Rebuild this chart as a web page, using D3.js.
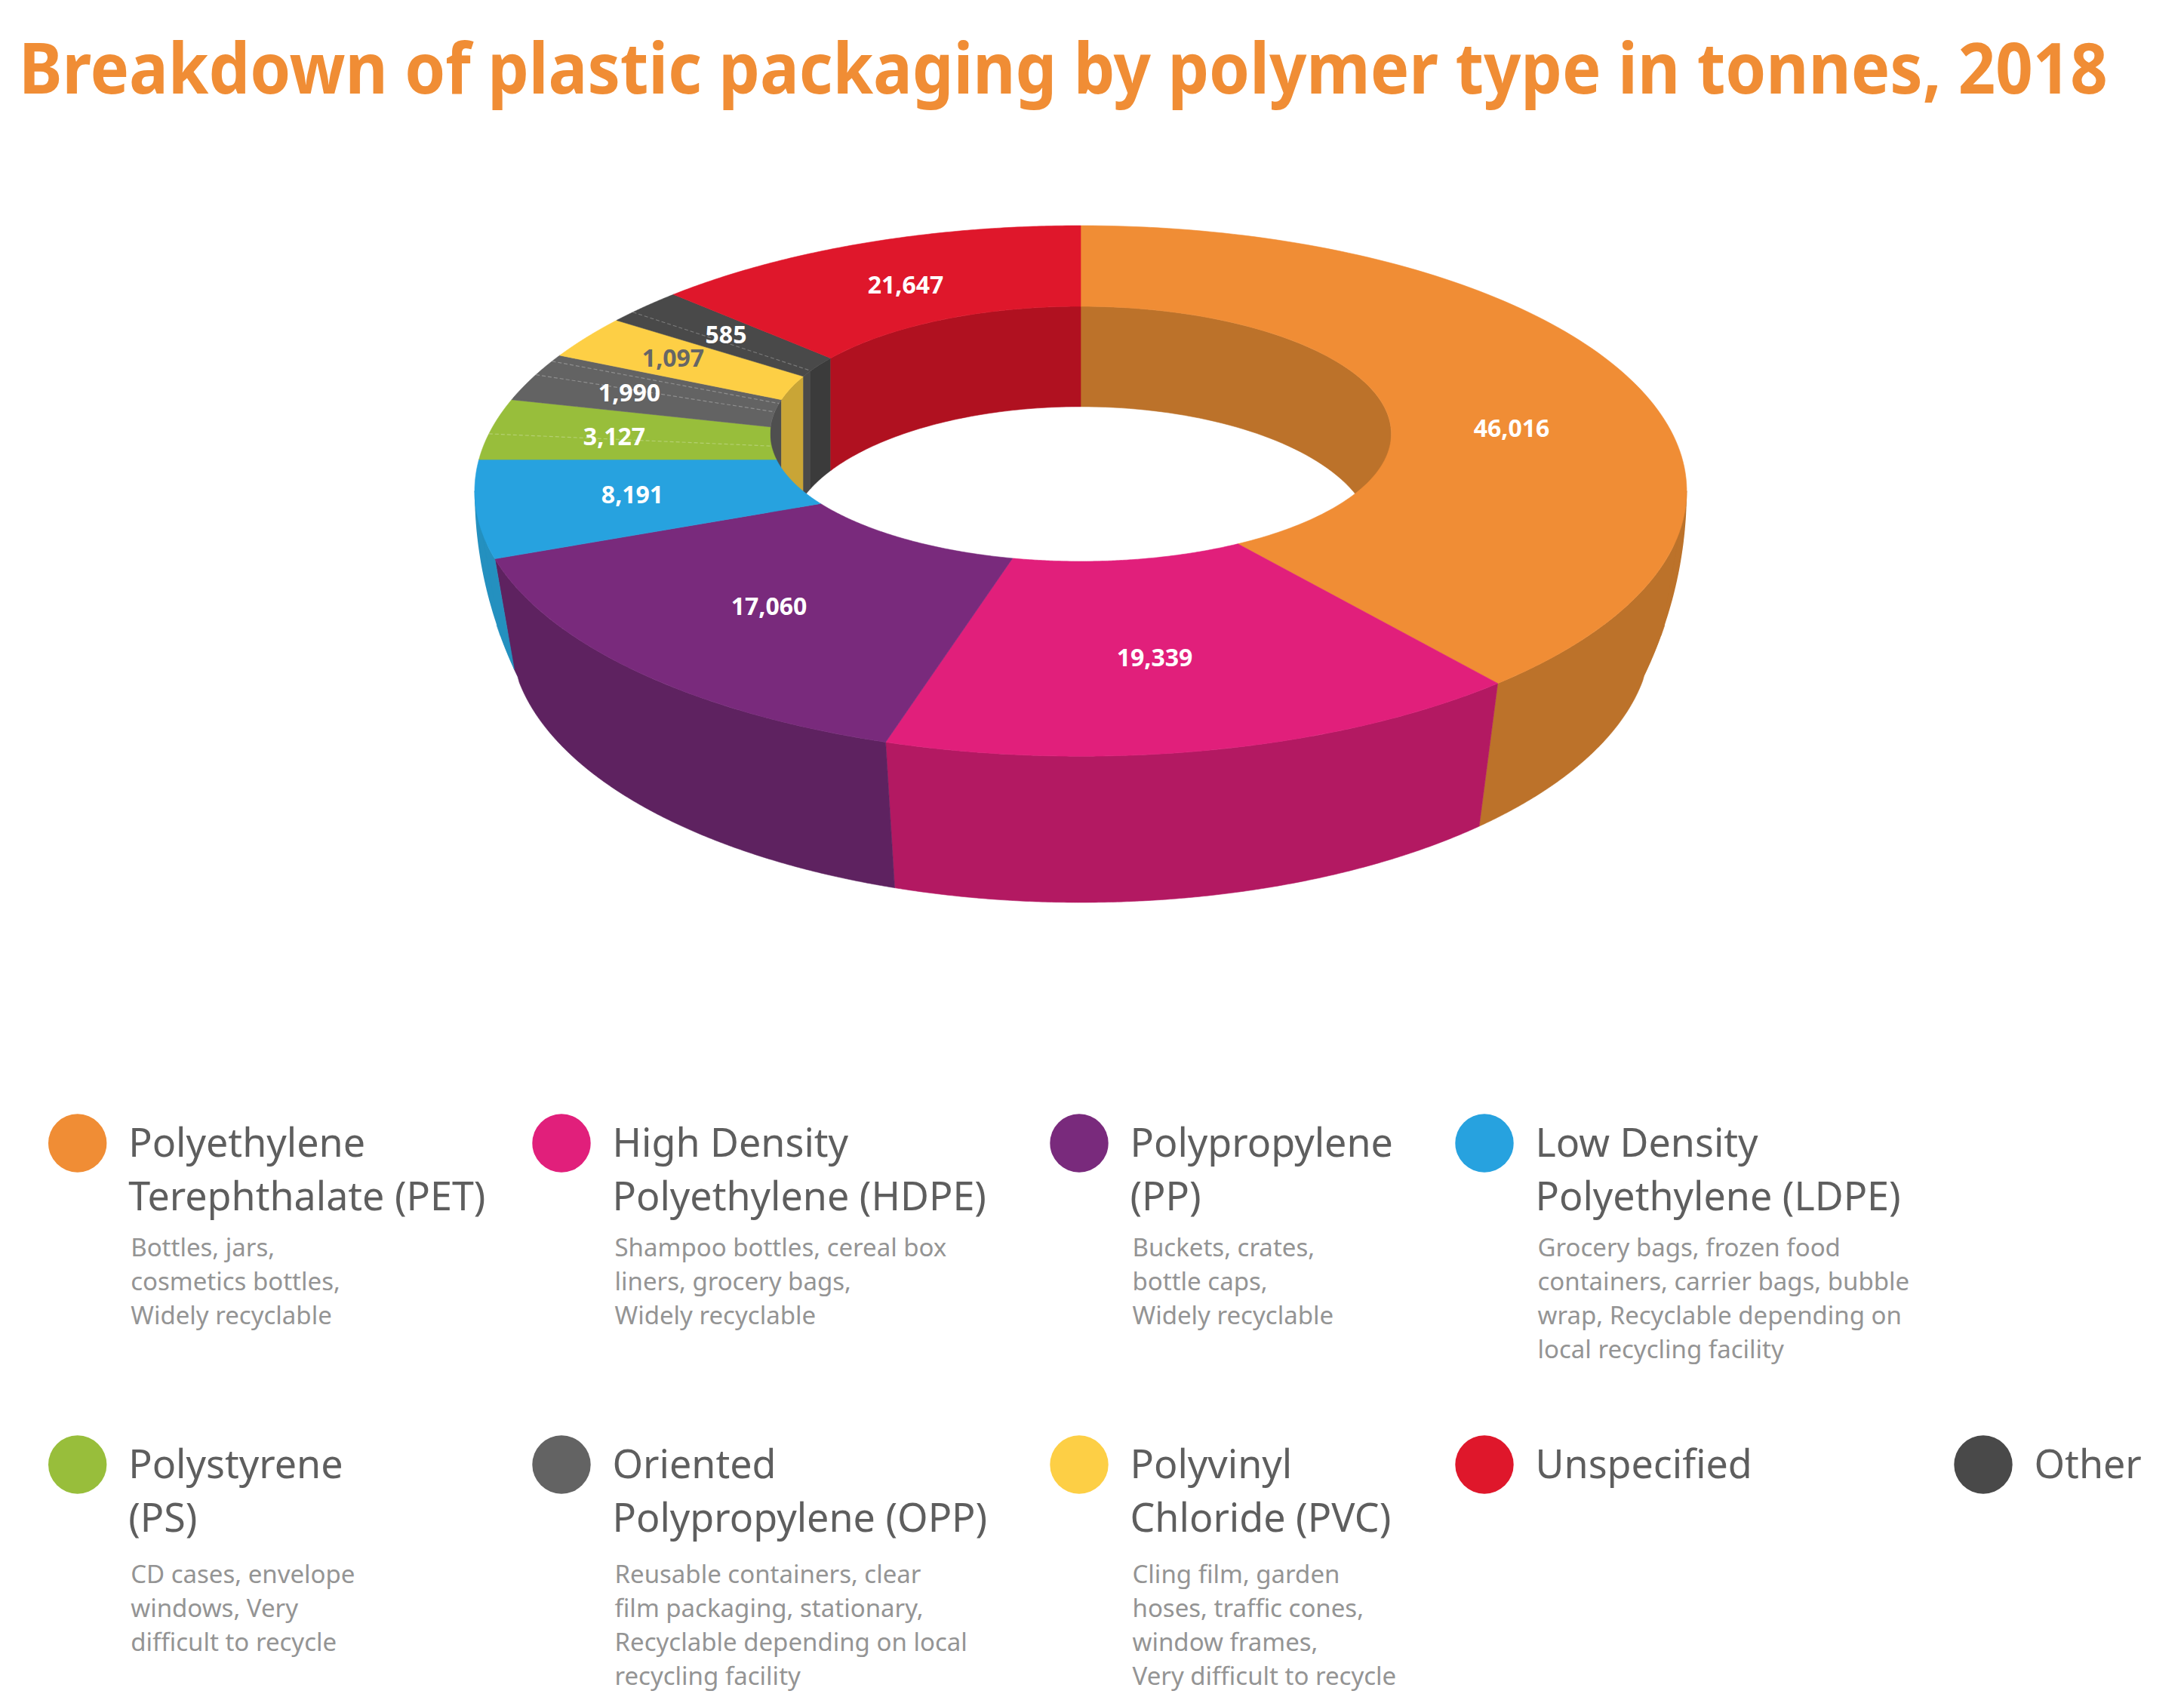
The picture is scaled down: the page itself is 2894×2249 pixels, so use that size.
<!DOCTYPE html>
<html>
<head>
<meta charset="utf-8">
<script src="https://d3js.org/d3.v7.min.js"></script>
<style>
  body { margin: 0; background: #fff; }
  text { font-family: "Noto Sans", sans-serif; }
</style>
</head>
<body>
<svg id="chart" width="2894" height="2249"></svg>
<script>
const titleText = 'Breakdown of plastic packaging by polymer type in tonnes, 2018';

// slice order is clockwise from 12 o'clock
const polymers = ['PET', 'HDPE', 'PP', 'LDPE', 'PS', 'OPP', 'PVC', 'Other', 'Unspecified'];
const tonnes = [46016, 19339, 17060, 8191, 3127, 1990, 1097, 585, 21647];
// degrees each wedge really takes up in the picture: the original is not
// drawn to scale (small slices blown up, Unspecified squeezed)
const drawnDegrees = [141, 55.7, 52, 21.3, 13.6, 11.1, 9.9, 8.4, 47];
const topColors = ['#f08d35', '#e11f7b', '#792a7c', '#27a2df', '#98be3b', '#636363', '#fdcf45', '#494949', '#df172b'];
const wallColors = ['#bc722a', '#b31962', '#5e2260', '#2490bf', '#7a9830', '#4f4f4f', '#c9a536', '#3b3b3b', '#b01120'];
const valueColors = ['#fff', '#fff', '#fff', '#fff', '#fff', '#fff', '#666', '#fff', '#fff'];

const legendOrder = ['PET', 'HDPE', 'PP', 'LDPE', 'PS', 'OPP', 'PVC', 'Unspecified', 'Other'];
const legendNames = [
  ['Polyethylene', 'Terephthalate (PET)'],
  ['High Density', 'Polyethylene (HDPE)'],
  ['Polypropylene', '(PP)'],
  ['Low Density', 'Polyethylene (LDPE)'],
  ['Polystyrene', '(PS)'],
  ['Oriented', 'Polypropylene (OPP)'],
  ['Polyvinyl', 'Chloride (PVC)'],
  ['Unspecified'],
  ['Other']
];
const legendNotes = [
  ['Bottles, jars,', 'cosmetics bottles,', 'Widely recyclable'],
  ['Shampoo bottles, cereal box', 'liners, grocery bags,', 'Widely recyclable'],
  ['Buckets, crates,', 'bottle caps,', 'Widely recyclable'],
  ['Grocery bags, frozen food', 'containers, carrier bags, bubble', 'wrap, Recyclable depending on', 'local recycling facility'],
  ['CD cases, envelope', 'windows, Very', 'difficult to recycle'],
  ['Reusable containers, clear', 'film packaging, stationary,', 'Recyclable depending on local', 'recycling facility'],
  ['Cling film, garden', 'hoses, traffic cones,', 'window frames,', 'Very difficult to recycle'],
  [],
  []
];

// faint seams in the artwork: which slice, how far through its sweep
const seamSlices = ['Other', 'OPP', 'OPP', 'PS'];
const seamFractions = [0.3, 0.55, 0.86, 0.42];

// ---- geometry of the fake 3D ring ----
const cx = 1432;
const apex = [cx, 609];          // where all the slice edges meet
const tilt = 2.3;                // ground plane squash, x against y
const vanishY = 5168;            // the outer wall leans towards this point
const outerTop = {cy: 650.6, rx: 803, ry: 351.6};
const outerBottom = {cy: 841, rx: 756, ry: 355};
const outerSide = {cy: 650.6, rx: 803, ry: 665};   // silhouette of the wall at both ends
const sideFrom = 745;            // side silhouette takes over this far out from cx
const innerTop = {cy: 575, rx: 411.6, ry: 169};
const innerBottom = {cy: 715.2, rx: 387.6, ry: 176.3};

const valueAnchors = [[2003, 567], [1530, 871], [1019, 803], [838, 655], [814, 578], [834, 520], [892, 474], [962, 443], [1200, 377]];

const svg = d3.select('#chart');
const line = d3.line();
const tau = 2 * Math.PI;

// distance along p + s*d to the far side of ellipse e, null if it misses
function farHit(e, p, dx, dy) {
  const px = (p[0] - cx) / e.rx, py = (p[1] - e.cy) / e.ry;
  const ux = dx / e.rx, uy = dy / e.ry;
  const A = ux * ux + uy * uy, B = 2 * (px * ux + py * uy), C = px * px + py * py - 1;
  const disc = B * B - 4 * A * C;
  return disc < 0 ? null : (-B + Math.sqrt(disc)) / (2 * A);
}

// a slice edge at angle a runs from the apex until it meets ellipse e
function hit(e, a) {
  const dx = tilt * Math.sin(a), dy = -Math.cos(a);
  const s = farHit(e, apex, dx, dy);
  return [apex[0] + s * dx, apex[1] + s * dy];
}

// param angle of a point on an ellipse, clockwise from the top
function param(e, p) {
  const t = Math.atan2((p[0] - cx) / e.rx, -(p[1] - e.cy) / e.ry);
  return t < 0 ? t + tau : t;
}

function onEllipse(e, t) {
  return [cx + e.rx * Math.sin(t), e.cy - e.ry * Math.cos(t)];
}

function steps(a, b, n) {
  return d3.range(n + 1).map(i => a + (b - a) * i / n);
}

// outer wall foot: follow the line to the vanishing point down to the lower outline
function footOf(p) {
  const dx = cx - p[0], dy = vanishY - p[1];
  let s = farHit(outerBottom, p, dx, dy);
  if (s === null || Math.abs(p[0] + s * dx - cx) > sideFrom) s = Math.max(0, farHit(outerSide, p, dx, dy));
  return [p[0] + s * dx, p[1] + s * dy];
}

// inner wall foot: straight down onto the upper arc of the lower rim
function rimOf(p) {
  const e = innerBottom;
  const u = Math.min(1, Math.abs(p[0] - cx) / e.rx);
  return [p[0], e.cy - e.ry * Math.sqrt(1 - u * u)];
}

const slices = d3.pie().sort(null).value((d, i) => drawnDegrees[i])(polymers);

function innerWall(a0, a1, fill) {
  const t0 = param(innerTop, hit(innerTop, a0));
  let t1 = param(innerTop, hit(innerTop, a1));
  if (a1 >= tau - 1e-6) t1 = tau;
  const ranges = [[0, Math.PI / 2], [1.5 * Math.PI, tau]];
  ranges.forEach(r => {
    const lo = Math.max(t0, r[0]), hi = Math.min(t1, r[1]);
    if (hi <= lo) return;
    const top = steps(lo, hi, 60).map(t => onEllipse(innerTop, t));
    const foot = top.map(rimOf).reverse();
    svg.append('path').attr('d', line(top.concat(foot)) + 'Z')
      .attr('fill', fill).attr('stroke', fill).attr('stroke-width', 0.6);
  });
}

// back walls of the hole
slices.forEach((s, i) => {
  if (polymers[i] === 'Other') {
    const split = s.startAngle + (s.endAngle - s.startAngle) * 0.28;
    innerWall(s.startAngle, split, '#4a4a4a');
    innerWall(split, s.endAngle, wallColors[i]);
  } else {
    innerWall(s.startAngle, s.endAngle, wallColors[i]);
  }
});

// both ends of the outer wall bulge past the chord: fill that strip first
const sideTurn = Math.asin(sideFrom / outerSide.rx);
[['PET', Math.PI / 2, Math.PI - sideTurn], ['LDPE', 1.5 * Math.PI, Math.PI + sideTurn]].forEach(d => {
  const fill = wallColors[polymers.indexOf(d[0])];
  const arc = steps(d[1], d[2], 40).map(t => onEllipse(outerSide, t));
  svg.append('path').attr('d', line(arc) + 'Z').attr('fill', fill);
});

// outer wall, front half only
slices.forEach((s, i) => {
  const lo = Math.max(param(outerTop, hit(outerTop, s.startAngle)), Math.PI / 2);
  const hi = Math.min(param(outerTop, hit(outerTop, s.endAngle)), 1.5 * Math.PI);
  if (hi <= lo) return;
  const top = steps(lo, hi, 200).map(t => onEllipse(outerTop, t));
  const foot = top.map(footOf).reverse();
  svg.append('path').attr('d', line(top.concat(foot)) + 'Z')
    .attr('fill', wallColors[i]).attr('stroke', wallColors[i]).attr('stroke-width', 0.6);
});

// top face
slices.forEach((s, i) => {
  const angles = steps(s.startAngle, s.endAngle, 120);
  const outer = angles.map(a => hit(outerTop, a));
  const inner = angles.map(a => hit(innerTop, a)).reverse();
  svg.append('path').attr('d', line(outer.concat(inner)) + 'Z')
    .attr('fill', topColors[i]).attr('stroke', topColors[i]).attr('stroke-width', 0.6);
});

// seams
seamSlices.forEach((name, i) => {
  const s = slices[polymers.indexOf(name)];
  const a = s.startAngle + (s.endAngle - s.startAngle) * seamFractions[i];
  svg.append('path').attr('d', line([hit(outerTop, a), hit(innerTop, a)]))
    .attr('stroke', '#fff').attr('stroke-opacity', 0.28).attr('stroke-width', 1.2)
    .attr('stroke-dasharray', '5 3').attr('fill', 'none');
});

// value labels
svg.selectAll('text.value').data(tonnes).join('text')
  .attr('class', 'value')
  .attr('x', (d, i) => valueAnchors[i][0])
  .attr('y', (d, i) => valueAnchors[i][1])
  .attr('dy', '0.36em')
  .attr('text-anchor', 'middle')
  .attr('font-size', 32)
  .attr('font-weight', 700)
  .attr('fill', (d, i) => valueColors[i])
  .text(d3.format(','));

// title squeezed sideways to the reference width
const title = svg.append('text')
  .attr('font-size', 94).attr('font-weight', 700)
  .attr('fill', '#f08d35')
  .text(titleText);
const titleSqueeze = 2768 / title.node().getComputedTextLength();
title.attr('transform', `translate(25,124) scale(${titleSqueeze},1)`);

// legend
const dotX = [102.7, 744, 1430, 1967, 102.7, 744, 1430, 1967, 2628];
const dotY = [1515, 1515, 1515, 1515, 1941, 1941, 1941, 1941, 1941];
const noteStartY = [1664.5, 1664.5, 1664.5, 1664.5, 2097.5, 2097.5, 2097.5, 2097.5, 2097.5];

legendOrder.forEach((name, i) => {
  const g = svg.append('g');
  const color = topColors[polymers.indexOf(name)];
  g.append('circle').attr('cx', dotX[i]).attr('cy', dotY[i]).attr('r', 38.7).attr('fill', color);
  const tx = dotX[i] + 67.5;
  legendNames[i].forEach((t, j) => {
    g.append('text').attr('x', tx).attr('y', dotY[i] + 18 + j * 70.5)
      .attr('font-size', 52).attr('fill', '#5e5e5e').text(t);
  });
  legendNotes[i].forEach((t, j) => {
    g.append('text').attr('x', tx + 3).attr('y', noteStartY[i] + j * 45.3)
      .attr('font-size', 33).attr('fill', '#949494').text(t);
  });
});
</script>
</body>
</html>
